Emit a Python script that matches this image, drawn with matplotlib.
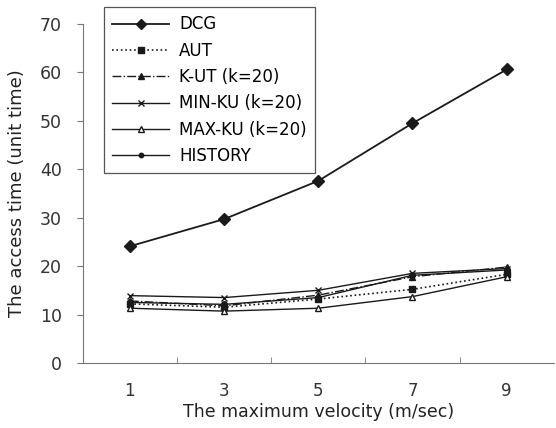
import numpy as np
import matplotlib.pyplot as plt

# Data
velocity = ['1', '3', '5', '7', '9']
dcg = [24.1, 29.7, 37.6, 49.5, 60.6]
aut = [12.2, 11.5, 13.2, 15.2, 18.3]
kut = [12.8, 11.8, 14.0, 17.8, 19.8]
minku = [13.9, 13.5, 15.0, 18.5, 19.5]
maxku = [11.3, 10.7, 11.3, 13.7, 17.8]
history = [12.5, 12.1, 13.5, 18.1, 19.2]

plt.rcParams['font.family'] = ['DejaVu Sans']
ink = '#1a1a1a'

fig = plt.figure(figsize=(5.56, 4.28), dpi=100)
ax = fig.add_axes([0.149, 0.152, 0.847, 0.792])

x = np.arange(len(velocity))
ax.plot(x, dcg, '-', color=ink, lw=1.3, marker='D', ms=6, label='DCG')
ax.plot(x, aut, ':', color=ink, lw=1.2, marker='s', ms=5, label='AUT')
ax.plot(x, kut, '-.', color=ink, lw=1.0, marker='^', ms=5, label='K-UT (k=20)')
ax.plot(x, minku, '-', color=ink, lw=1.0, marker='x', ms=5, label='MIN-KU (k=20)')
ax.plot(x, maxku, '-', color=ink, lw=1.0, marker='^', ms=5, mfc='white',
        label='MAX-KU (k=20)')
ax.plot(x, history, '-', color=ink, lw=1.0, marker='o', ms=4, label='HISTORY')

ax.set_xlim(-0.5, 4.5)
ax.set_ylim(0, 70)
ax.set_xticks(x)
ax.set_xticklabels(velocity)
ax.set_xticks(np.arange(0.5, 4.5, 1), minor=True)
ax.tick_params(axis='x', which='major', length=0, pad=14, labelsize=12,
               labelcolor='#333333')
ax.tick_params(axis='x', which='minor', direction='in', length=4, color='#777777')
ax.set_yticks(np.arange(0, 71, 10))
ax.tick_params(axis='y', direction='out', length=4, color='#777777', pad=11,
               labelsize=12.5, labelcolor='#333333')

for s in ['top', 'right']:
    ax.spines[s].set_visible(False)
for s in ['left', 'bottom']:
    ax.spines[s].set_color('#777777')

ax.set_xlabel('The maximum velocity (m/sec)', fontsize=12.5, color='#222222',
              labelpad=2)
ax.set_ylabel('The access time (unit time)', fontsize=13, color='#222222',
              labelpad=10)

leg = ax.legend(loc='upper left', bbox_to_anchor=(0.045, 1.05), fontsize=12,
                handlelength=3.4, handletextpad=0.6, labelspacing=0.5,
                borderpad=0.5, borderaxespad=0, markerscale=0.8,
                fancybox=False, framealpha=1, edgecolor='#555555')
leg.get_frame().set_linewidth(0.9)

fig.savefig('out.png', dpi=100)
